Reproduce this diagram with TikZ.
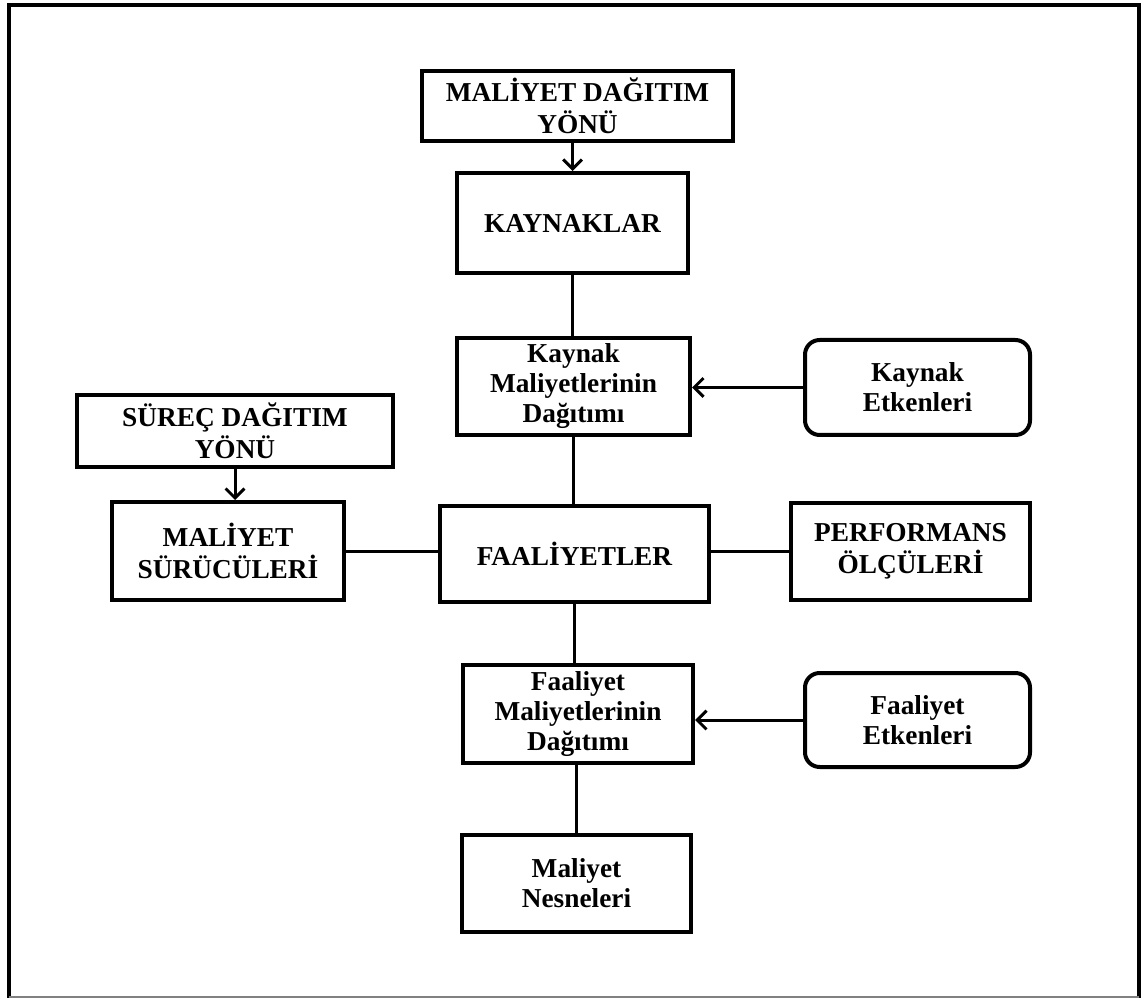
\documentclass[tikz,border=0pt]{standalone}
\usepackage{fontspec}
\setmainfont{Liberation Serif}
\usetikzlibrary{arrows.meta}
\begin{document}
\begin{tikzpicture}[x=0.75pt,y=-0.75pt,
  sz/.style 2 args={minimum width=#1*0.75pt, minimum height=#2*0.75pt},
  box/.style={draw, line width=3pt, align=center, inner sep=0pt,
    font=\fontsize{20.5}{24}\selectfont\bfseries},
  lbox/.style={box, font=\fontsize{20.5}{22.5}\selectfont\bfseries},
  rbox/.style={lbox, rounded corners=11pt},
  link/.style={line width=2.25pt},
  flow/.style={link, -{Straight Barb[length=7pt,width=14pt,line width=2.25pt]}}]
\useasboundingbox (0,0) rectangle (1143,998);

% frame
\draw[line width=3pt] (9,998) -- (9,5) -- (1139,5) -- (1139,998);
\draw[gray, line width=0.8pt] (9,997) -- (1139,997);

% boxes
\node[box, sz={311}{70}] (mdy) at (577.5,106) {MALİYET DAĞITIM\\YÖNÜ};
\node[box, sz={231}{100}] (kay) at (572.5,223) {KAYNAKLAR};
\node[lbox, sz={233}{97}] (kmd) at (573.5,386.5) {Kaynak\\Maliyetlerinin\\Dağıtımı};
\node[rbox, sz={225}{95}] (ket) at (917.5,387.5) {Kaynak\\Etkenleri};
\node[box, sz={316}{72}] (sdy) at (235,431) {SÜREÇ DAĞITIM\\YÖNÜ};
\node[box, sz={232}{98}] (ms) at (228,551) {MALİYET\\SÜRÜCÜLERİ};
\node[box, sz={269}{96}] (faa) at (574.5,554) {FAALİYETLER};
\node[box, sz={239}{97}] (perf) at (910.5,551.5) {PERFORMANS\\ÖLÇÜLERİ};
\node[lbox, sz={230}{98}] (fmd) at (578,714) {Faaliyet\\Maliyetlerinin\\Dağıtımı};
\node[rbox, sz={225}{94}] (fet) at (917.5,720) {Faaliyet\\Etkenleri};
\node[lbox, sz={229}{97}] (mn) at (576.5,883.5) {Maliyet\\Nesneleri};

% connectors
\draw[flow] (mdy.south -| kay.north) -- (kay.north);
\draw[link] (kay.south) -- (kay.south |- kmd.north);
\draw[link] (kmd.south) -- (kmd.south |- faa.north);
\draw[link] (faa.south) -- (faa.south |- fmd.north);
\draw[link] (fmd.south) -- (fmd.south -| mn.north) -- (mn.north);
\draw[flow] (ket.west) -- (ket.west -| kmd.east);
\draw[flow] (fet.west) -- (fet.west -| fmd.east);
\draw[flow] (sdy.south) -- (sdy.south |- ms.north);
\draw[link] (ms.east) -- (ms.east -| faa.west);
\draw[link] (faa.east |- perf.west) -- (perf.west);
\end{tikzpicture}
\end{document}
